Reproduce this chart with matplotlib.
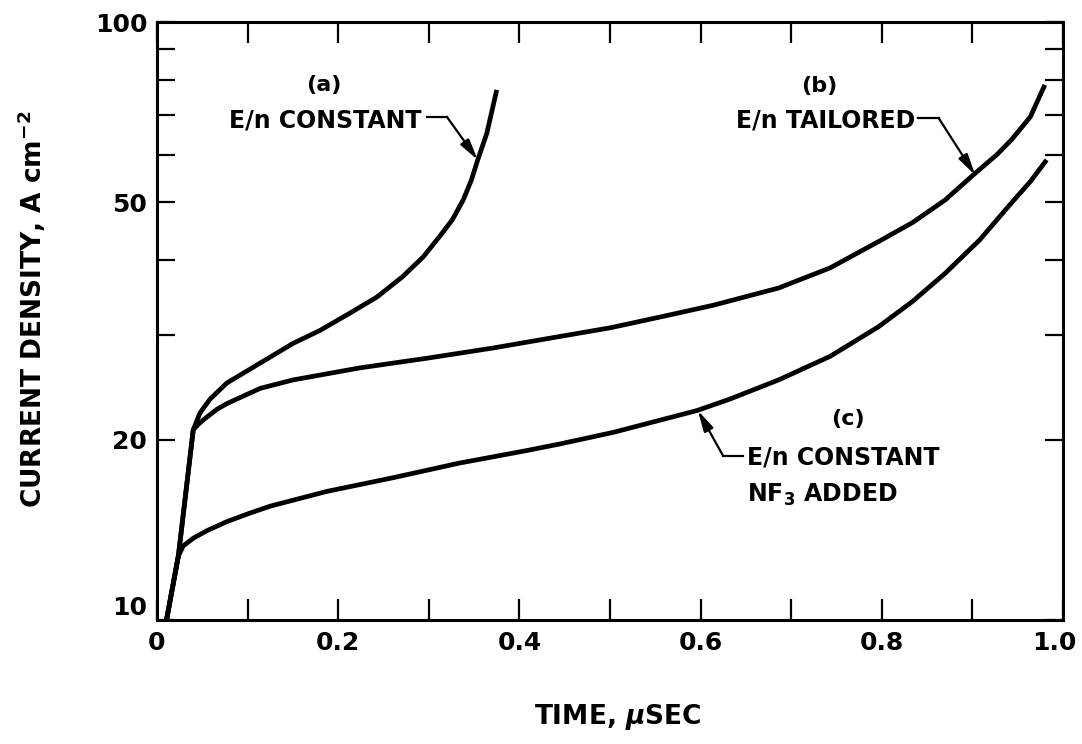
import matplotlib
matplotlib.use("Agg")
import matplotlib.pyplot as plt
import matplotlib.transforms as mtransforms
from matplotlib.ticker import FixedLocator, NullFormatter, FixedFormatter

plt.rcParams['font.family'] = ['DejaVu Sans']
plt.rcParams['font.weight'] = 'bold'
plt.rcParams['mathtext.fontset'] = 'custom'
plt.rcParams['mathtext.rm'] = 'DejaVu Sans:bold'
plt.rcParams['mathtext.bf'] = 'DejaVu Sans:bold'
plt.rcParams['mathtext.it'] = 'DejaVu Sans:italic:bold'

# curve (a): E/n constant
t_a = [0.0105, 0.0236, 0.040, 0.0475, 0.0585, 0.077, 0.114, 0.150, 0.180, 0.213,
       0.243, 0.271, 0.294, 0.312, 0.326, 0.338, 0.347, 0.354, 0.364, 0.375]
j_a = [10, 12.8, 20.8, 22.2, 23.4, 24.9, 26.9, 29.0, 30.5, 32.6,
       34.7, 37.5, 40.5, 43.8, 46.7, 50.4, 54.4, 58.8, 65.1, 77.0]

# curve (b): E/n tailored
t_b = [0.0105, 0.0236, 0.040, 0.045, 0.051, 0.066, 0.077, 0.114, 0.150, 0.224,
       0.298, 0.371, 0.445, 0.500, 0.559, 0.614, 0.686, 0.743, 0.796, 0.834,
       0.870, 0.901, 0.927, 0.943, 0.964, 0.980]
j_b = [10, 12.8, 20.8, 21.2, 21.6, 22.5, 23.0, 24.4, 25.2, 26.4,
       27.4, 28.5, 29.8, 30.8, 32.2, 33.6, 35.9, 38.8, 42.9, 46.2,
       50.4, 55.5, 60.0, 63.5, 69.4, 78.5]

# curve (c): E/n constant, NF3 added
t_c = [0.0105, 0.0236, 0.029, 0.040, 0.055, 0.077, 0.103, 0.125, 0.187, 0.261,
       0.334, 0.408, 0.445, 0.504, 0.596, 0.632, 0.686, 0.743, 0.796, 0.834,
       0.870, 0.908, 0.943, 0.964, 0.982]
j_c = [10, 12.8, 13.3, 13.7, 14.1, 14.6, 15.1, 15.5, 16.4, 17.3,
       18.3, 19.2, 19.7, 20.6, 22.4, 23.4, 25.2, 27.6, 30.9, 34.1,
       38.0, 43.2, 49.8, 54.1, 58.8]

x_major = [0, 0.2, 0.4, 0.6, 0.8, 1.0]
x_labels = ["0", "0.2", "0.4", "0.6", "0.8", "1.0"]
x_minor = [0.1, 0.3, 0.5, 0.7, 0.9]
y_major = [10, 20, 50, 100]
y_labels = ["10", "20", "50", "100"]
y_minor = [30, 40, 60, 70, 80, 90]

fig = plt.figure(figsize=(10.82, 7.44), dpi=100)
ax = fig.add_axes([0.1451, 0.1667, 0.8373, 0.8037])

for t, j in [(t_a, j_a), (t_b, j_b), (t_c, j_c)]:
    ax.plot(t, j, color='black', lw=3.4, solid_capstyle='butt', solid_joinstyle='round')

ax.set_yscale('log')
ax.set_xlim(0, 1.0)
ax.set_ylim(10, 100)

ax.xaxis.set_major_locator(FixedLocator(x_major))
ax.xaxis.set_major_formatter(FixedFormatter(x_labels))
ax.xaxis.set_minor_locator(FixedLocator(x_minor))
ax.yaxis.set_major_locator(FixedLocator(y_major))
ax.yaxis.set_major_formatter(FixedFormatter(y_labels))
ax.yaxis.set_minor_locator(FixedLocator(y_minor))
ax.yaxis.set_minor_formatter(NullFormatter())

ax.tick_params(axis='x', which='both', direction='in', top=True, bottom=True,
               length=15, width=1.6, pad=8, labelsize=18)
ax.tick_params(axis='y', which='both', direction='in', left=True, right=True,
               length=13, width=1.6, pad=7, labelsize=18)
for s in ax.spines.values():
    s.set_linewidth(2.2)

# nudge the corner labels like the original
lbl10 = ax.get_yticklabels()[0]
lbl10.set_transform(lbl10.get_transform() + mtransforms.ScaledTranslation(0, 0.14, fig.dpi_scale_trans))
lbl1 = ax.get_xticklabels()[-1]
lbl1.set_transform(lbl1.get_transform() + mtransforms.ScaledTranslation(-0.09, 0, fig.dpi_scale_trans))

ax.set_xlabel(r"TIME, $\mu$SEC", fontsize=19, fontweight='bold')
ax.xaxis.set_label_coords(0.508, -0.137)
ax.set_ylabel(r"CURRENT DENSITY, A cm$^{-2}$", fontsize=19, fontweight='bold', va='center')
ax.yaxis.set_label_coords(-0.138, 0.52)

arrow = dict(arrowstyle='-|>,head_length=0.9,head_width=0.22', color='black', lw=1.6,
             mutation_scale=14, shrinkA=0, shrinkB=0)

# (a)
ax.text(0.184, 78.5, "(a)", fontsize=16, ha='center', va='center')
ax.text(0.2925, 66.5, "E/n CONSTANT", fontsize=17, ha='right', va='baseline')
ax.plot([0.298, 0.320], [69.4, 69.4], color='black', lw=1.6)
ax.annotate("", xy=(0.354, 58.8), xytext=(0.320, 69.4), arrowprops=arrow)

# (b)
ax.text(0.731, 78.2, "(b)", fontsize=16, ha='center', va='center')
ax.text(0.837, 66.5, "E/n TAILORED", fontsize=17, ha='right', va='baseline')
ax.plot([0.840, 0.863], [69.0, 69.0], color='black', lw=1.6)
ax.annotate("", xy=(0.903, 55.5), xytext=(0.863, 69.0), arrowprops=arrow)

# (c)
ax.text(0.763, 21.7, "(c)", fontsize=16, ha='center', va='center')
ax.text(0.651, 18.2, "E/n CONSTANT", fontsize=17, ha='left', va='baseline')
ax.text(0.651, 15.75, r"NF$_3$ ADDED", fontsize=17, ha='left', va='baseline')
ax.plot([0.647, 0.625], [18.8, 18.8], color='black', lw=1.6)
ax.annotate("", xy=(0.597, 22.4), xytext=(0.625, 18.8), arrowprops=arrow)

fig.savefig("out.png", dpi=100)
